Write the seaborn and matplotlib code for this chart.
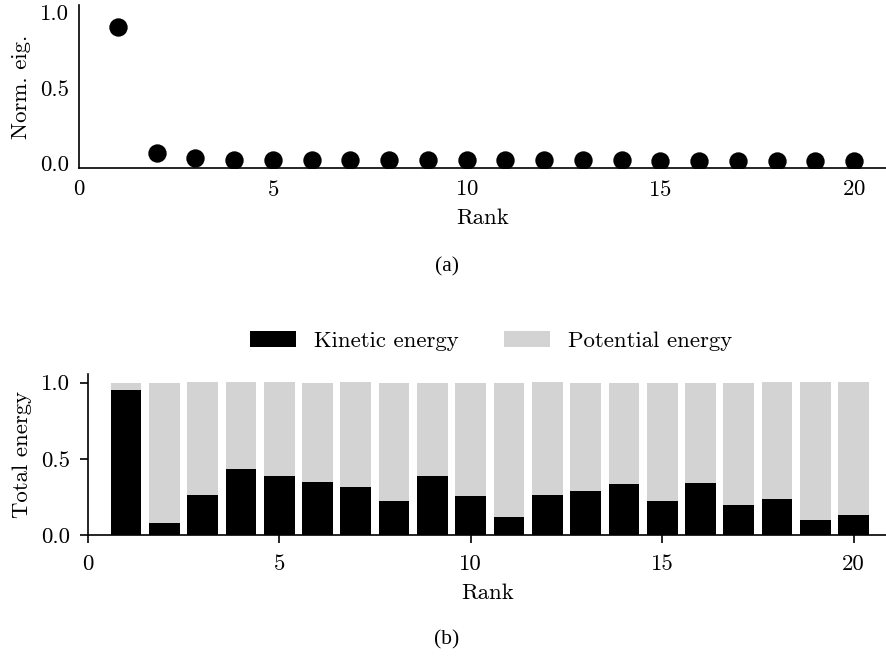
import numpy as np
import pandas as pd
import matplotlib
matplotlib.use("Agg")
import matplotlib.pyplot as plt
import seaborn as sns

# values
rank = list(range(1, 21))
norm_eig = [0.905, 0.069, 0.031, 0.020, 0.019, 0.019, 0.018, 0.018, 0.018, 0.017,
            0.017, 0.017, 0.017, 0.017, 0.016, 0.016, 0.016, 0.016, 0.016, 0.016]
kinetic = [0.952, 0.079, 0.263, 0.435, 0.387, 0.348, 0.315, 0.223, 0.387, 0.256,
           0.118, 0.263, 0.289, 0.335, 0.223, 0.341, 0.197, 0.236, 0.098, 0.131]
potential = [0.048, 0.921, 0.743, 0.571, 0.619, 0.652, 0.691, 0.777, 0.613, 0.744,
             0.882, 0.743, 0.711, 0.665, 0.777, 0.659, 0.803, 0.770, 0.908, 0.875]
xticks = [0, 5, 10, 15, 20]
yticks = [0.0, 0.5, 1.0]

df = pd.DataFrame({"rank": rank, "eig": norm_eig, "kin": kinetic, "pot": potential})
df["total"] = df["kin"] + df["pot"]

FS = 16.4

sns.set_style("ticks")
plt.rcParams.update({
    "font.family": ["cmr10", "DejaVu Serif"],
    "axes.formatter.use_mathtext": True,
    "mathtext.fontset": "cm",
    "font.size": FS,
    "axes.edgecolor": "black",
    "axes.linewidth": 1.2,
    "axes.labelpad": 6.5,
    "xtick.color": "black",
    "ytick.color": "black",
    "text.color": "black",
    "axes.labelcolor": "black",
})

W, H = 887, 659
fig = plt.figure(figsize=(W / 100, H / 100), dpi=100)

# (a) normalised eigenvalues
ax1 = fig.add_axes([79 / W, 1 - 168 / H, (W - 79) / W, 163 / H])
sns.scatterplot(data=df, x="rank", y="eig", ax=ax1, color="black", s=175, linewidth=0)
ax1.set_xlim(0, 20.85)
ax1.set_ylim(-0.033, 1.05)
ax1.set_xticks(xticks)
ax1.set_yticks(yticks)
ax1.set_yticklabels(["0.0", "0.5", "1.0"])
ax1.tick_params(axis="both", length=0, labelsize=FS)
ax1.tick_params(axis="x", pad=8.5)
ax1.tick_params(axis="y", pad=7)
ax1.set_xlabel("Rank", fontsize=FS)
ax1.set_ylabel("Norm. eig.", fontsize=FS)
sns.despine(ax=ax1)

# (b) energy split
ax2 = fig.add_axes([87.7 / W, 1 - 535 / H, (W - 87.7) / W, 161 / H])
sns.barplot(data=df, x="rank", y="total", native_scale=True, color="lightgray",
            saturation=1, width=0.8, errorbar=None, ax=ax2, linewidth=0,
            label="Potential energy")
sns.barplot(data=df, x="rank", y="kin", native_scale=True, color="black",
            saturation=1, width=0.8, errorbar=None, ax=ax2, linewidth=0,
            label="Kinetic energy")
ax2.set_xlim(0, 20.87)
ax2.set_ylim(0, 1.057)
ax2.set_xticks(xticks)
ax2.set_xticklabels([str(t) for t in xticks])
ax2.set_yticks(yticks)
ax2.set_yticklabels(["0.0", "0.5", "1.0"])
ax2.tick_params(axis="both", length=6, width=1.2, direction="out", labelsize=FS)
ax2.tick_params(axis="x", pad=8)
ax2.tick_params(axis="y", pad=7)
ax2.set_xlabel("Rank", fontsize=FS)
ax2.set_ylabel("Total energy", fontsize=FS)
sns.despine(ax=ax2)

h, l = ax2.get_legend_handles_labels()
ax2.legend(h[::-1], l[::-1], loc="center", bbox_to_anchor=(0.505, (535 - 341) / 161),
           ncol=2, frameon=False, fontsize=FS)

fig.text(447 / W, 1 - 267 / H, "(a)", family="Liberation Serif", fontsize=15.5,
         ha="center", va="center")
fig.text(447 / W, 1 - 640 / H, "(b)", family="Liberation Serif", fontsize=15.5,
         ha="center", va="center")

fig.savefig("out.png", dpi=100)
